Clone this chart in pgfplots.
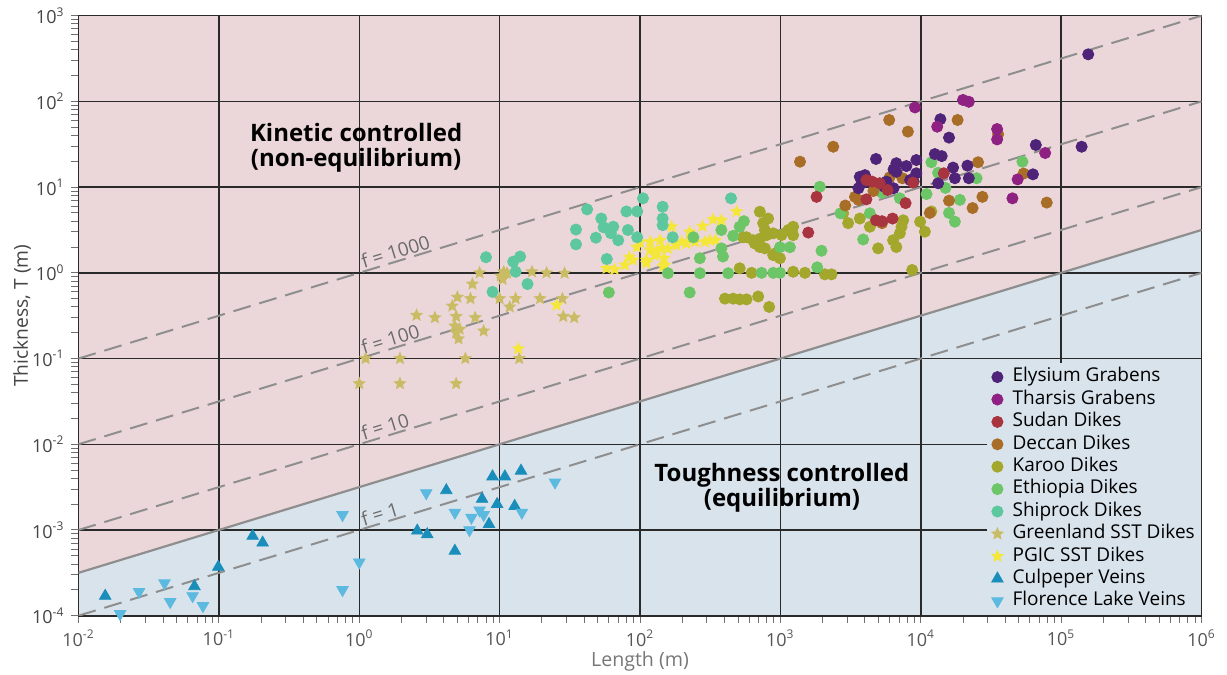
\documentclass[border=0pt]{standalone}
\usepackage{fontspec}
\setmainfont{Open Sans}
\usepackage{pgfplots}
\pgfplotsset{compat=1.18}
\definecolor{bgpink}{HTML}{EBD7D9}
\definecolor{bgblue}{HTML}{D9E3EC}
\definecolor{gridc}{HTML}{2A2A2A}
\definecolor{tickc}{HTML}{707070}
\definecolor{xtickc}{HTML}{555555}
\definecolor{ytickc}{HTML}{444444}
\definecolor{refc}{HTML}{8E8E8E}
\definecolor{flab}{HTML}{6A6A6A}
\definecolor{cEly}{HTML}{4F2478}
\definecolor{cTha}{HTML}{8E2182}
\definecolor{cSud}{HTML}{A83440}
\definecolor{cDec}{HTML}{A86E28}
\definecolor{cKar}{HTML}{A3A82C}
\definecolor{cEth}{HTML}{6CC667}
\definecolor{cShi}{HTML}{5DC79E}
\definecolor{cGre}{HTML}{C9BC64}
\definecolor{cPGI}{HTML}{F5E63A}
\definecolor{cCul}{HTML}{1A8EBA}
\definecolor{cFlo}{HTML}{5CB9E0}
\pgfdeclareplotmark{fstar}{%
 \pgfpathmoveto{\pgfpointpolar{90}{\pgfplotmarksize}}%
 \pgfpathlineto{\pgfpointpolar{126}{0.45\pgfplotmarksize}}%
 \pgfpathlineto{\pgfpointpolar{162}{\pgfplotmarksize}}%
 \pgfpathlineto{\pgfpointpolar{198}{0.45\pgfplotmarksize}}%
 \pgfpathlineto{\pgfpointpolar{234}{\pgfplotmarksize}}%
 \pgfpathlineto{\pgfpointpolar{270}{0.45\pgfplotmarksize}}%
 \pgfpathlineto{\pgfpointpolar{306}{\pgfplotmarksize}}%
 \pgfpathlineto{\pgfpointpolar{342}{0.45\pgfplotmarksize}}%
 \pgfpathlineto{\pgfpointpolar{18}{\pgfplotmarksize}}%
 \pgfpathlineto{\pgfpointpolar{54}{0.45\pgfplotmarksize}}%
 \pgfpathclose
 \pgfusepathqfill
}
\pgfplotsset{
 circ/.style={only marks, mark=*, mark size=2.8pt, color=#1},
 stars/.style={only marks, mark=fstar, mark size=3.5pt, color=#1},
 tri/.style={only marks, mark=triangle*, mark size=3.3pt, color=#1},
 itri/.style={only marks, mark=triangle*, mark size=3.3pt, color=#1, mark options={rotate=180}},
 refline/.style={refc, line width=1pt, dash pattern=on 9pt off 4.5pt},
}
\begin{document}
\begin{tikzpicture}
\begin{axis}[
 name=ax, set layers,
 xmode=log, ymode=log,
 scale only axis, width=561.5pt, height=300pt,
 xmin=1e-2, xmax=1e6, ymin=1e-4, ymax=1e3,
 xtick={0.01,0.1,1,10,100,1000,10000,100000,1000000},
 xticklabels={10\textsuperscript{-2},10\textsuperscript{-1},10\textsuperscript{0},10\textsuperscript{1},10\textsuperscript{2},10\textsuperscript{3},10\textsuperscript{4},10\textsuperscript{5},10\textsuperscript{6}},
 ytick={0.0001,0.001,0.01,0.1,1,10,100,1000},
 yticklabels={10\textsuperscript{-4},10\textsuperscript{-3},10\textsuperscript{-2},10\textsuperscript{-1},10\textsuperscript{0},10\textsuperscript{1},10\textsuperscript{2},10\textsuperscript{3}},
 minor xtick={0.02,0.03,0.04,0.05,0.06,0.07,0.08,0.09,0.2,0.3,0.4,0.5,0.6,0.7,0.8,0.9,2,3,4,5,6,7,8,9,20,30,40,50,60,70,80,90,200,300,400,500,600,700,800,900,2000,3000,4000,5000,6000,7000,8000,9000,20000,30000,40000,50000,60000,70000,80000,90000,200000,300000,400000,500000,600000,700000,800000,900000},
 minor ytick={0.0002,0.0003,0.0004,0.0005,0.0006,0.0007,0.0008,0.0009,0.002,0.003,0.004,0.005,0.006,0.007,0.008,0.009,0.02,0.03,0.04,0.05,0.06,0.07,0.08,0.09,0.2,0.3,0.4,0.5,0.6,0.7,0.8,0.9,2,3,4,5,6,7,8,9,20,30,40,50,60,70,80,90,200,300,400,500,600,700,800,900},
 grid=major,
 major grid style={draw=gridc, line width=0.75pt},
 tick pos=left, tick align=outside,
 major tick length=3.5pt, minor tick length=3.5pt,
 every tick/.style={draw=tickc, line width=0.5pt},
 axis line style={draw=gridc, line width=0.8pt},
 xticklabel style={font=\fontsize{9}{10}\selectfont, text=xtickc},
 yticklabel style={font=\fontsize{9}{10}\selectfont, text=ytickc},
 xlabel={Length (m)}, ylabel={Thickness, T (m)},
 every axis x label/.style={at={(axis description cs:0.5,-0.0755)}, anchor=center, font=\fontsize{9.8}{11}\selectfont, text=xtickc!80!white},
 every axis y label/.style={at={(axis description cs:-0.0503,0.5)}, rotate=90, anchor=center, font=\fontsize{9.6}{11}\selectfont, text=ytickc},
 legend style={at={(1,0)}, anchor=south east, fill=bgblue, draw=none,
   inner xsep=2pt, inner ysep=1.5pt, font=\fontsize{9.5}{10.5}\selectfont,
   row sep=0pt, nodes={inner sep=1.2pt, text height=6.8pt, text depth=2pt}},
 legend cell align=left,
 legend image code/.code={\draw[#1] plot coordinates {(0pt,0pt)}; \path (-3.2pt,0pt) (6.2pt,0pt);},
]
% legend
\addlegendimage{mark=*, mark size=2.8pt, color=cEly}\addlegendentry{Elysium Grabens}
\addlegendimage{mark=*, mark size=2.8pt, color=cTha}\addlegendentry{Tharsis Grabens}
\addlegendimage{mark=*, mark size=2.8pt, color=cSud}\addlegendentry{Sudan Dikes}
\addlegendimage{mark=*, mark size=2.8pt, color=cDec}\addlegendentry{Deccan Dikes}
\addlegendimage{mark=*, mark size=2.8pt, color=cKar}\addlegendentry{Karoo Dikes}
\addlegendimage{mark=*, mark size=2.8pt, color=cEth}\addlegendentry{Ethiopia Dikes}
\addlegendimage{mark=*, mark size=2.8pt, color=cShi}\addlegendentry{Shiprock Dikes}
\addlegendimage{mark=fstar, mark size=3.5pt, color=cGre}\addlegendentry{Greenland SST Dikes}
\addlegendimage{mark=fstar, mark size=3.5pt, color=cPGI}\addlegendentry{PGIC SST Dikes}
\addlegendimage{mark=triangle*, mark size=3.3pt, color=cCul}\addlegendentry{Culpeper Veins}
\addlegendimage{mark=triangle*, mark size=3.3pt, color=cFlo, mark options={rotate=180}}\addlegendentry{Florence Lake Veins}
% regions
\addplot[forget plot, on layer=axis background, fill=bgpink, draw=none] coordinates {(1e-2,1e-4) (1e-2,1e3) (1e6,1e3) (1e6,1e-4)};
\addplot[forget plot, on layer=axis background, fill=bgblue, draw=none] coordinates {(1e-2,1e-4) (1e-2,3.162e-4) (1e6,3.162) (1e6,1e-4)};
% reference lines
\addplot[forget plot, refc, line width=1.1pt] coordinates {(1e-2,3.162e-4) (1e6,3.162)};
\addplot[forget plot, refline] coordinates {(1e-2,1e-1) (1e6,1e3)};
\addplot[forget plot, refline] coordinates {(1e-2,1e-2) (1e6,1e2)};
\addplot[forget plot, refline] coordinates {(1e-2,1e-3) (1e6,1e1)};
\addplot[forget plot, refline] coordinates {(1e-2,1e-4) (1e6,1e0)};
% Greenland SST
\addplot[forget plot, stars=cGre] coordinates {(1.0,0.051)(1.11,0.1)(1.95,0.1)(1.95,0.051)(2.56,0.32)(3.46,0.30)(4.6,0.41)(4.8,0.24)(4.9,0.20)(5.1,0.17)(4.9,0.31)(4.9,0.051)(5.0,0.52)(5.7,0.1)(6.2,0.50)(6.4,0.74)(6.7,0.30)(7.2,1.0)(7.7,0.21)(10,0.50)(10.5,0.84)(10.7,1.03)(11.3,0.99)(11.8,0.40)(13,0.50)(13.8,0.1)(17,1.03)(19.4,0.50)(21.6,1.0)(28,0.50)(28.4,0.31)(29,0.99)(34,0.30)(10.2,0.92)(5.2,0.22)};
% PGIC SST
\addplot[forget plot, stars=cPGI] coordinates {(13.6,0.13)(25.5,0.42)(57.8,1.13)(66,1.1)(78,1.23)(84,1.52)(89,1.41)(95,2.0)(100,2.3)(111,1.41)(111,1.3)(118,2.3)(118,1.85)(128,1.6)(131,1.75)(139,2.4)(142,1.93)(146,1.18)(148,1.48)(150,1.23)(158,1.93)(168,3.45)(182,2.1)(198,2.3)(214,2.2)(226,3.0)(247,2.3)(279,3.5)(290,2.3)(315,2.4)(332,4.2)(345,2.4)(380,4.1)(487,5.2)};
% Shiprock
\addplot[forget plot, circ=cShi] coordinates {(8.0,1.52)(12.5,1.35)(14,1.55)(8.9,0.60)(13,1.03)(15.8,0.74)(35,3.2)(35,2.15)(42,5.5)(48.5,2.57)(53,4.3)(55,3.4)(64.5,3.45)(62,2.9)(70,2.4)(80,5.2)(82,3.16)(95.5,5.2)(95.5,2.6)(105,7.4)(58,1.45)(145,5.9)(145,4.3)(145,3.6)(171,2.6)(445,7.4)};
% Karoo
\addplot[forget plot, circ=cKar] coordinates {(714,5.16)(818,4.3)(574,2.6)(640,2.4)(715,2.5)(798,2.75)(776,3.16)(754,3.8)(776,1.93)(922,1.69)(993,1.48)(1233,3.45)(1233,2.75)(1140,3.16)(1497,1.0)(1233,1.03)(513,1.13)(624,1.0)(2075,0.96)(2316,0.96)(403,0.5)(461,0.5)(514,0.49)(574,0.49)(695,0.53)(832,0.40)(658,2.2)(714,2.0)(889,1.61)(889,2.89)(1020,2.76)(543,2.6)(8690,1.08)(2800,4.95)(3040,3.8)(3680,4.3)(4340,3.45)(4970,1.93)(6350,2.4)(6700,2.0)(7100,2.89)(7500,4.1)(7300,3.45)(9900,3.95)(10700,3.02)(11900,5.2)};
% Ethiopia
\addplot[forget plot, circ=cEth] coordinates {(60,0.59)(158,0.99)(226,0.59)(240,2.6)(267,0.99)(267,1.48)(380,3.16)(380,1.93)(390,1.55)(425,0.99)(461,2.7)(513,3.45)(550,4.0)(735,1.0)(890,1.0)(993,1.0)(993,1.99)(1170,1.99)(1830,1.16)(1963,1.81)(1910,10.1)(2680,4.95)(3890,2.45)(4335,4.95)(5300,8.6)(7100,7.4)(11000,8.3)(11900,19.5)(13300,14.7)(15000,9.8)(19000,7.1)(15900,5.0)(17500,3.95)(25000,12.7)(53000,19.8)};
% Deccan
\addplot[forget plot, circ=cDec] coordinates {(1380,19.8)(2380,29.6)(5960,60.7)(8100,44.4)(18300,60.7)(25600,19.5)(35600,41.4)(54000,14.4)(79000,6.6)(27500,7.7)(23400,5.7)(15900,6.95)(11600,5.0)(2900,6.1)(3400,7.7)(3600,7.1)(7400,12.7)(5300,3.8)(6000,13)(4600,9)};
% Elysium
\addplot[forget plot, circ=cEly] coordinates {(1.56e5,354)(1.40e5,29.6)(6.6e4,31)(6.3e4,14.1)(1.38e4,62)(1.59e4,37.8)(4.8e3,21.3)(6.7e3,19)(7.9e3,17.6)(9.3e3,20.7)(1.26e4,24.3)(1.41e4,23)(1.7e4,16.9)(2.15e4,17.8)(2.2e4,12.7)(1.75e4,12.7)(1.33e4,11.1)(9.3e3,14.5)(3.68e3,13.2)(4.0e3,11.6)(3.79e3,11.1)(3.6e3,9.7)(6.7e3,15.1)(8.4e3,12.1)(5.7e3,11.6)(6.4e3,9.7)(6.4e3,16.1)(8.9e3,11.6)(5.5e3,10.1)(4.0e3,13.8)};
% Tharsis
\addplot[forget plot, circ=cTha] coordinates {(9.1e3,85)(2.0e4,104)(2.2e4,99)(1.31e4,50.7)(3.5e4,47.6)(3.5e4,36)(7.7e4,25)(4.9e4,12.3)(4.5e4,7.4)};
% Sudan
\addplot[forget plot, circ=cSud] coordinates {(1810,7.7)(1580,2.95)(4100,7.2)(4100,12.1)(4500,11.6)(5100,11.1)(5800,9.25)(7800,6.5)(8800,11.3)(14600,14.5)(4800,4.1)(5300,4.0)(6300,4.3)};
% Culpeper
\addplot[forget plot, tri=cCul] coordinates {(0.0155,1.7e-4)(0.067,2.2e-4)(0.099,3.7e-4)(0.174,8.5e-4)(0.205,7.1e-4)(2.59,9.8e-4)(3.05,8.9e-4)(4.17,2.9e-3)(4.8,5.7e-4)(7.5,2.3e-3)(8.4,1.17e-3)(8.9,4.2e-3)(9.6,2.0e-3)(10.9,4.2e-3)(12.8,1.9e-3)(14.2,4.9e-3)};
% Florence Lake
\addplot[forget plot, itri=cFlo] coordinates {(0.0198,1.05e-4)(0.027,1.9e-4)(0.041,2.4e-4)(0.045,1.45e-4)(0.065,1.7e-4)(0.077,1.3e-4)(0.76,1.5e-3)(0.76,2.0e-4)(1.0,4.2e-4)(3.0,2.7e-3)(4.8,1.6e-3)(6.1,1.0e-3)(6.3,1.4e-3)(7.2,1.7e-3)(7.7,1.5e-3)(14.4,1.6e-3)(24.8,3.6e-3)};
% annotations
\node[font=\bfseries\fontsize{12}{12.6}\selectfont, align=center] at (axis cs:0.95,28.6) {Kinetic controlled\\(non-equilibrium)};
\node[font=\bfseries\fontsize{12}{12.6}\selectfont, align=center] at (axis cs:1026,3.09e-3) {Toughness controlled\\(equilibrium)};
\node[font=\fontsize{9.5}{10}\selectfont, text=flab, rotate=17, anchor=south west, inner sep=1pt] at (axis cs:1.05,1.025) {f = 1000};
\node[font=\fontsize{9.5}{10}\selectfont, text=flab, rotate=17, anchor=south west, inner sep=1pt] at (axis cs:1.05,0.1025) {f = 100};
\node[font=\fontsize{9.5}{10}\selectfont, text=flab, rotate=17, anchor=south west, inner sep=1pt] at (axis cs:1.05,0.01025) {f = 10};
\node[font=\fontsize{9.5}{10}\selectfont, text=flab, rotate=17, anchor=south west, inner sep=1pt] at (axis cs:1.05,0.001025) {f = 1};
\end{axis}
\pgfresetboundingbox
\path[use as bounding box] ([shift={(-39.25pt,-29.65pt)}]ax.south west) rectangle ([shift={(12.75pt,7.85pt)}]ax.north east);
\end{tikzpicture}
\end{document}
